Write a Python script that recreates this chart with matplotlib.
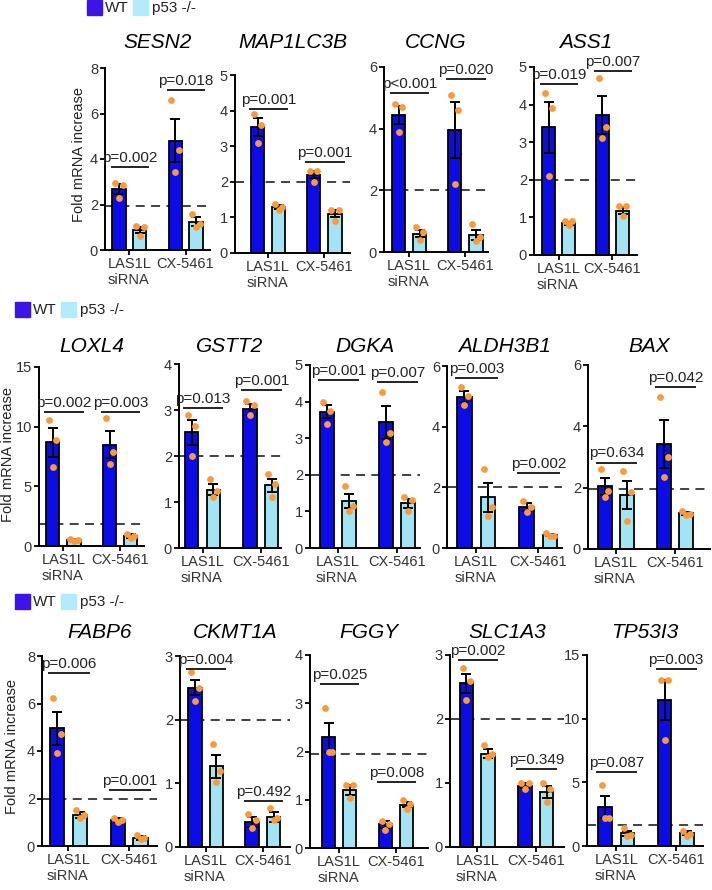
import matplotlib
matplotlib.use('Agg')
import matplotlib.pyplot as plt
from matplotlib.patches import Rectangle

plt.rcParams['font.family'] = ['Liberation Sans', 'DejaVu Sans']

W, H = 712, 890

# ---------------- data ----------------
groups = ['LAS1L\nsiRNA', 'CX-5461']
series = ['WT', 'p53 -/-']
# bar order: WT LAS1L, p53 LAS1L, WT CX-5461, p53 CX-5461

SESN2_mean = [2.70, 0.88, 4.80, 1.25]
SESN2_sem = [0.22, 0.15, 0.95, 0.20]
SESN2_pts = [[2.95, 2.85, 2.30], [1.05, 1.00, 0.60], [6.60, 4.40, 3.45], [1.60, 1.15, 1.00]]
SESN2_p = ['p=0.002', 'p=0.018']

MAP1LC3B_mean = [3.53, 1.30, 2.20, 1.10]
MAP1LC3B_sem = [0.25, 0.05, 0.10, 0.10]
MAP1LC3B_pts = [[3.90, 3.60, 3.10], [1.38, 1.30, 1.22], [2.30, 2.30, 2.00], [1.20, 1.20, 0.90]]
MAP1LC3B_p = ['p=0.001', 'p=0.001']

CCNG_mean = [4.45, 0.60, 3.95, 0.55]
CCNG_sem = [0.30, 0.12, 0.90, 0.17]
CCNG_pts = [[4.80, 4.70, 3.90], [0.80, 0.65, 0.40], [5.10, 4.60, 2.20], [0.90, 0.50, 0.35]]
CCNG_p = ['p<0.001', 'p=0.020']

ASS1_mean = [3.40, 0.85, 3.72, 1.18]
ASS1_sem = [0.68, 0.04, 0.50, 0.10]
ASS1_pts = [[4.30, 3.90, 2.10], [0.90, 0.90, 0.80], [4.70, 3.40, 3.10], [1.30, 1.30, 1.05]]
ASS1_p = ['p=0.019', 'p=0.007']

LOXL4_mean = [8.70, 0.50, 8.50, 0.85]
LOXL4_sem = [1.20, 0.05, 1.15, 0.15]
LOXL4_pts = [[10.60, 8.90, 6.60], [0.55, 0.50, 0.45], [10.70, 7.90, 6.90], [1.00, 0.85, 0.70]]
LOXL4_p = ['p=0.002', 'p=0.003']

GSTT2_mean = [2.52, 1.27, 3.02, 1.36]
GSTT2_sem = [0.27, 0.12, 0.12, 0.15]
GSTT2_pts = [[2.90, 2.65, 2.00], [1.50, 1.25, 1.10], [3.20, 3.10, 2.90], [1.60, 1.40, 1.10]]
GSTT2_p = ['p=0.013', 'p=0.001']

DGKA_mean = [3.72, 1.28, 3.43, 1.22]
DGKA_sem = [0.18, 0.20, 0.45, 0.12]
DGKA_pts = [[4.00, 3.75, 3.40], [1.70, 1.15, 1.00], [4.25, 3.15, 2.90], [1.40, 1.30, 1.00]]
DGKA_p = ['p=0.001', 'p=0.007']

ALDH3B1_mean = [4.98, 1.67, 1.35, 0.42]
ALDH3B1_sem = [0.18, 0.47, 0.12, 0.03]
ALDH3B1_pts = [[5.30, 5.00, 4.70], [2.60, 1.35, 1.05], [1.55, 1.35, 1.20], [0.50, 0.40, 0.38]]
ALDH3B1_p = ['p=0.003', 'p=0.002']

BAX_mean = [2.04, 1.76, 3.43, 1.16]
BAX_sem = [0.27, 0.47, 0.78, 0.05]
BAX_pts = [[2.60, 1.90, 1.70], [2.55, 1.85, 0.90], [4.95, 3.00, 2.35], [1.25, 1.15, 1.10]]
BAX_p = ['p=0.634', 'p=0.042']

FABP6_mean = [4.95, 1.30, 1.10, 0.35]
FABP6_sem = [0.68, 0.13, 0.07, 0.08]
FABP6_pts = [[6.25, 4.70, 3.90], [1.50, 1.30, 1.20], [1.20, 1.10, 1.00], [0.45, 0.35, 0.28]]
FABP6_p = ['p=0.006', 'p=0.001']

CKMT1A_mean = [2.50, 1.27, 0.39, 0.47]
CKMT1A_sem = [0.12, 0.18, 0.08, 0.08]
CKMT1A_pts = [[2.75, 2.50, 2.30], [1.62, 1.20, 1.02], [0.52, 0.42, 0.30], [0.62, 0.45, 0.42]]
CKMT1A_p = ['p=0.004', 'p=0.492']

FGGY_mean = [2.30, 1.20, 0.49, 0.90]
FGGY_sem = [0.30, 0.10, 0.07, 0.06]
FGGY_pts = [[2.90, 2.00, 2.00], [1.30, 1.30, 1.04], [0.55, 0.50, 0.38], [1.00, 0.92, 0.80]]
FGGY_p = ['p=0.025', 'p=0.008']

SLC1A3_mean = [2.56, 1.46, 0.96, 0.86]
SLC1A3_sem = [0.15, 0.07, 0.04, 0.09]
SLC1A3_pts = [[2.80, 2.60, 2.30], [1.60, 1.45, 1.40], [1.00, 1.00, 0.90], [1.00, 0.90, 0.70]]
SLC1A3_p = ['p=0.002', 'p=0.349']

TP53I3_mean = [3.05, 1.00, 11.45, 1.00]
TP53I3_sem = [0.88, 0.20, 1.55, 0.15]
TP53I3_pts = [[4.80, 2.20, 2.20], [1.45, 0.85, 0.75], [13.00, 13.00, 8.30], [1.20, 0.95, 0.75]]
TP53I3_p = ['p=0.087', 'p=0.003']

rows = [
    ['SESN2', 'MAP1LC3B', 'CCNG', 'ASS1'],
    ['LOXL4', 'GSTT2', 'DGKA', 'ALDH3B1', 'BAX'],
    ['FABP6', 'CKMT1A', 'FGGY', 'SLC1A3', 'TP53I3'],
]
data = {g: (globals()[g + '_mean'], globals()[g + '_sem'],
            globals()[g + '_pts'], globals()[g + '_p'])
        for r in rows for g in r}

# ---------------- layout (pixels) ----------------
# L, R, y of zero, y of top, first bar center, last bar center, ymax, ystep, dash level, p-line heights
layout = {
    'SESN2':    (105, 210, 250, 68, 119.0, 196.0, 8, 2, 1.95, (3.65, 7.05)),
    'MAP1LC3B': (235, 350, 253, 75, 257.5, 335.0, 5, 1, 2.0, (4.05, 2.56)),
    'CCNG':     (384, 488, 252, 67, 398.5, 476.0, 6, 2, 2.0, (5.17, 5.60)),
    'ASS1':     (534, 637, 255, 67, 548.5, 622.5, 5, 1, 2.0, (4.55, 4.90)),
    'LOXL4':    (39, 144, 546, 367, 52.7, 130.8, 15, 5, 1.85, (11.2, 11.2)),
    'GSTT2':    (179, 281, 548, 364, 191.7, 271.7, 4, 1, 2.0, (3.05, 3.44)),
    'DGKA':     (310, 420, 548, 365, 326.7, 408.0, 5, 1, 2.0, (4.60, 4.54)),
    'ALDH3B1':  (447, 562, 548, 366, 464.5, 550.0, 6, 2, 2.0, (5.60, 2.47)),
    'BAX':      (588, 710, 549, 365, 604.7, 686.0, 6, 2, 1.97, (2.82, 5.28)),
    'FABP6':    (42, 157, 846, 656, 57.0, 140.5, 8, 2, 2.0, (7.30, 2.35)),
    'CKMT1A':   (180, 290, 847, 656, 195.0, 273.5, 3, 1, 2.0, (2.80, 0.72)),
    'FGGY':     (310, 428, 848, 655, 328.5, 406.5, 4, 1, 1.95, (3.40, 1.37)),
    'SLC1A3':   (450, 564, 847, 655, 466.3, 546.7, 3, 1, 2.0, (2.92, 1.22)),
    'TP53I3':   (587, 703, 846, 655, 605.3, 686.7, 15, 5, 1.65, (5.80, 13.9)),
}
title_y = [42, 347, 632]
ylabel_pos = [(79, 155), (8, 455), (12, 746)]
legend_pos = [(87, 8), (15, 310), (15, 602)]

C_WT = '#0c0ce6'
C_KO = '#a3e4f4'
C_DOT = '#fb9a3c'
TXT = '#222222'

xpos = [0.0, 1.0, 2.67, 3.67]
jit = [-0.17, 0.17, 0.0]
bw = 0.62

fig = plt.figure(figsize=(W / 100, H / 100), dpi=100)


def fx(px):
    return px / W


def fy(py):
    return 1 - py / H


for ri, row in enumerate(rows):
    for g in row:
        L, R, y0, yt, c0, c3, ymax, ystep, dash, ph = layout[g]
        mean, sem, pts, pl = data[g]
        u = (c3 - c0) / xpos[-1]
        ax = fig.add_axes([fx(L), fy(y0), (R - L) / W, (y0 - yt) / H])
        ax.set_xlim((L - c0) / u, (R - c0) / u)
        ax.set_ylim(0, ymax)
        for i in range(4):
            col = C_WT if i % 2 == 0 else C_KO
            ax.bar(xpos[i], mean[i], width=bw, color=col, edgecolor='black',
                   linewidth=1.3, zorder=2)
            ax.errorbar(xpos[i], mean[i], yerr=sem[i], color='black',
                        elinewidth=1.4, capsize=3.6, capthick=1.4, zorder=3)
            ax.scatter([xpos[i] + j for j in jit], pts[i], s=24, color=C_DOT,
                       zorder=4, linewidths=0)
        ax.axhline(dash, color='#333333', lw=1.3, ls=(0, (5, 3.5)), zorder=1.5)
        for k in range(2):
            a, b = xpos[2 * k], xpos[2 * k + 1]
            x1, x2 = a - 0.4, b + 0.45
            ax.plot([x1, x2], [ph[k], ph[k]], color='#222222', lw=1.4,
                    clip_on=False, zorder=5, solid_capstyle='butt')
            ax.annotate(pl[k], xy=((x1 + x2) / 2, ph[k]), xytext=(0, 1.5),
                        textcoords='offset points', ha='center', va='bottom',
                        fontsize=11, color=TXT, annotation_clip=False)
        ax.spines['top'].set_visible(False)
        ax.spines['right'].set_visible(False)
        for s in ('left', 'bottom'):
            ax.spines[s].set_linewidth(1.4)
        ax.set_yticks([ystep * k for k in range(int(ymax / ystep) + 1)])
        ax.set_yticklabels([str(ystep * k) for k in range(int(ymax / ystep) + 1)])
        ax.set_xticks([(xpos[0] + xpos[1]) / 2, (xpos[2] + xpos[3]) / 2])
        ax.set_xticklabels(groups, multialignment='left')
        ax.tick_params(axis='y', length=3.5, width=1.3, pad=1.5, labelsize=10.5,
                       labelcolor='#333333')
        ax.tick_params(axis='x', length=3.5, width=1.3, pad=1.5, labelsize=10.5,
                       labelcolor='#333333')
        fig.text(fx((L + R) / 2), fy(title_y[ri]), g, ha='center', va='center',
                 fontsize=15, style='italic', color='black')
    # y label
    lx, ly = ylabel_pos[ri]
    fig.text(fx(lx), fy(ly), 'Fold mRNA increase', rotation=90, ha='center',
             va='center', fontsize=10.5, color=TXT)
    # legend
    gx, gy = legend_pos[ri]
    fig.patches.append(Rectangle((fx(gx), fy(gy + 7)), 15 / W, 15 / H,
                                 transform=fig.transFigure, color='#3d13e6'))
    fig.text(fx(gx + 18), fy(gy), series[0], ha='left', va='center',
             fontsize=11, color=TXT)
    fig.patches.append(Rectangle((fx(gx + 46), fy(gy + 7)), 15 / W, 15 / H,
                                 transform=fig.transFigure, color='#b2ecfa'))
    fig.text(fx(gx + 65), fy(gy), series[1], ha='left', va='center',
             fontsize=11, color=TXT)

fig.savefig('out.png', dpi=100)
